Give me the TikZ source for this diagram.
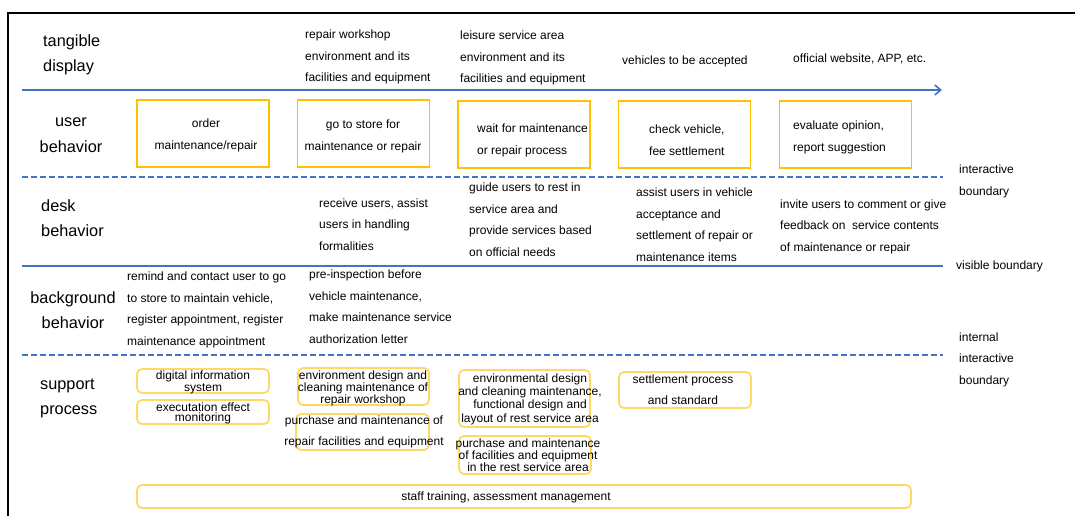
\documentclass[tikz,border=0pt]{standalone}
\usepackage{fontspec}
\setmainfont{Liberation Sans}
\usetikzlibrary{arrows.meta}
\definecolor{laneblue}{HTML}{4472C4}
\definecolor{boxgold}{HTML}{FFC000}
\definecolor{softgold}{HTML}{FFD966}
% multi-line nodes are placed by the baseline of their LAST line
\tikzset{
  x=1pt, y=-1pt,
  rowlabel/.style={font=\fontsize{16.3}{25}\selectfont, inner sep=0pt, anchor=base west, align=left},
  rowlabelc/.style={font=\fontsize{16.3}{25}\selectfont, inner sep=0pt, anchor=base, align=center},
  body/.style={font=\fontsize{12}{21.5}\selectfont, inner sep=0pt, anchor=base west, align=left},
  bodyc/.style={font=\fontsize{12}{21.5}\selectfont, inner sep=0pt, anchor=base, align=center},
  userbox/.style={draw=boxgold, line width=1.8pt, minimum width=132pt, minimum height=67pt, inner sep=0pt},
  supbox/.style={draw=softgold, line width=1.8pt, rounded corners=5pt, inner sep=0pt},
  suptext/.style={font=\fontsize{12}{12}\selectfont, inner sep=0pt, align=center},
  solidlane/.style={draw=laneblue, line width=1.6pt},
  dashlane/.style={draw=laneblue, line width=1.6pt, dash pattern=on 6pt off 3pt},
  frameline/.style={draw=black, line width=2.4pt}
}
\begin{document}
\begin{tikzpicture}
\useasboundingbox (0,0) rectangle (1075,516);
\fill[white] (0,0) rectangle (1075,516);

% outer frame (top and left edges)
\coordinate (fTL) at (8,13);
\coordinate (fTR) at (1075,13);
\coordinate (fBL) at (8,516);
\draw[frameline] (fTR) -- (fTL) -- (fBL);

% lane separators
\coordinate (l1a) at (22,90);  \coordinate (l1b) at (942,90);
\coordinate (l2a) at (22,177); \coordinate (l2b) at (943,177);
\coordinate (l3a) at (22,266); \coordinate (l3b) at (943,266);
\coordinate (l4a) at (22,355); \coordinate (l4b) at (943,355);
\draw[solidlane, -{Straight Barb[length=6pt,width=10pt,line width=1.6pt]}] (l1a) -- (l1b);
\draw[dashlane] (l2a) -- (l2b);
\draw[solidlane] (l3a) -- (l3b);
\draw[dashlane] (l4a) -- (l4b);

% lane titles
\node[rowlabel]  (tTangible)   at (43,72)  {tangible\\display};
\node[rowlabelc] (tUser)       at (71,152) {user\\behavior};
\node[rowlabel]  (tDesk)       at (41,236) {desk\\behavior};
\node[rowlabelc] (tBackground) at (73,328) {background\\behavior};
\node[rowlabel]  (tSupport)    at (40,414) {support\\process};

% boundary names
\node[body] (bInteractive) at (959,195) {interactive\\boundary};
\node[body] (bVisible)     at (956,269) {visible boundary};
\node[body] (bInternal)    at (959,384) {internal\\interactive\\boundary};

% tangible display
\node[body] (d1) at (305,82) {repair workshop\\environment and its\\facilities and equipment};
\node[body] (d2) at (460,83) {leisure service area\\environment and its\\facilities and equipment};
\node[body] (d3) at (622,65) {vehicles to be accepted};
\node[body] (d4) at (793,63) {official website, APP, etc.};

% user behaviour: boxes, then their texts
\node[userbox] (u1) at (203,133.5) {};
\node[userbox] (u2) at (363.5,133.5) {};
\node[userbox] (u3) at (524,134.5) {};
\node[userbox] (u4) at (684.5,134.5) {};
\node[userbox] (u5) at (845.5,134.5) {};
\node[bodyc] (u1t) at (206,149) {order\\maintenance/repair};
\node[bodyc] (u2t) at (363,150) {go to store for\\maintenance or repair};
\node[body]  (u3t) at (477,154) {wait for maintenance\\or repair process};
\node[body]  (u4t) at (649,155) {check vehicle,\\fee settlement};
\node[body]  (u5t) at (793,151) {evaluate opinion,\\report suggestion};

% desk behaviour
\node[body] (k1) at (319,250) {receive users, assist\\users in handling\\formalities};
\node[body] (k2) at (469,256) {guide users to rest in\\service area and\\provide services based\\on official needs};
\node[body] (k3) at (636,261) {assist users in vehicle\\acceptance and\\settlement of repair or\\maintenance items};
\node[body] (k4) at (780,251) {invite users to comment or give\\feedback on\ \ service contents\\of maintenance or repair};

% background behaviour
\node[body] (g1) at (127,345) {remind and contact user to go\\to store to maintain vehicle,\\register appointment, register\\maintenance appointment};
\node[body] (g2) at (309,343) {pre-inspection before\\vehicle maintenance,\\make maintenance service\\authorization letter};

% support process
\node[supbox, minimum width=132pt, minimum height=24pt] (s1) at (203,381) {};
\node[suptext] (s1t) at (203,382.5) {digital information\\system};
\node[supbox, minimum width=132pt, minimum height=24pt] (s2) at (203,412) {};
\node[suptext, font=\fontsize{12}{10}\selectfont] (s2t) at (203,413) {executation effect\\monitoring};
\node[supbox, minimum width=131pt, minimum height=37pt] (s3) at (363.5,386.5) {};
\node[suptext] (s3t) at (363,388) {environment design and\\cleaning maintenance of\\repair workshop};
\node[supbox, minimum width=133pt, minimum height=36pt] (s4) at (362.5,432) {};
\node[suptext, font=\fontsize{12}{21}\selectfont] (s4t) at (364,431.5) {purchase and maintenance of\\repair facilities and equipment};
\node[supbox, minimum width=131pt, minimum height=57pt] (s5) at (524.5,398.5) {};
\node[suptext, font=\fontsize{12}{13.3}\selectfont] (s5t) at (530,399) {environmental design\\and cleaning maintenance,\\functional design and\\layout of rest service area};
\node[supbox, minimum width=132pt, minimum height=38pt] (s6) at (525,455) {};
\node[suptext] (s6t) at (528,455) {purchase and maintenance\\of facilities and equipment\\in the rest service area};
\node[supbox, minimum width=132pt, minimum height=36pt] (s7) at (685,390) {};
\node[suptext, font=\fontsize{12}{21}\selectfont] (s7t) at (683,389.5) {settlement process\\and standard};
\node[supbox, minimum width=774pt, minimum height=23pt] (s8) at (524,496.5) {};
\node[suptext] (s8t) at (506,497) {staff training, assessment management};
\end{tikzpicture}
\end{document}
